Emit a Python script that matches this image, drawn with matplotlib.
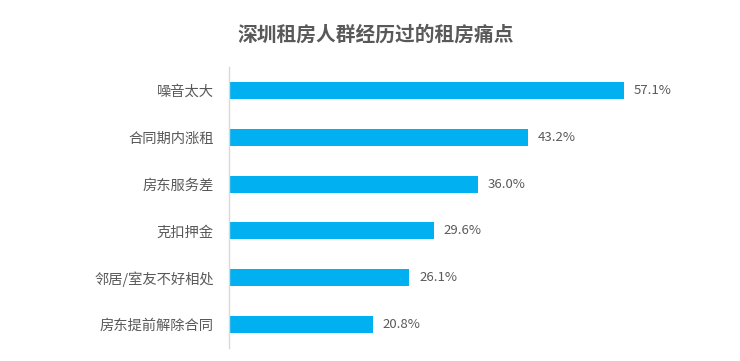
import numpy as np
import matplotlib.pyplot as plt

plt.rcParams['font.family'] = ['Noto Sans CJK SC', 'DejaVu Sans']

categories = ['噪音太大', '合同期内涨租', '房东服务差', '克扣押金', '邻居/室友不好相处', '房东提前解除合同']
values = [57.1, 43.2, 36.0, 29.6, 26.1, 20.8]
labels = ['57.1%', '43.2%', '36.0%', '29.6%', '26.1%', '20.8%']

fig = plt.figure(figsize=(7.4, 3.61), dpi=100)
ax = fig.add_axes([229 / 740, 13 / 361, 470 / 740, 281 / 361])

y = np.arange(len(categories))
ax.barh(y, values, height=0.36, color='#00B0F0')
for yi, v, lab in zip(y, values, labels):
    ax.text(v + 1.45, yi, lab, va='center', ha='left', fontsize=9.5, color='#595959')

ax.set_ylim(len(categories) - 0.5, -0.5)
ax.set_xlim(0, 68)
ax.set_yticks(y)
ax.set_yticklabels(categories, fontsize=10.3, color='#595959')
ax.tick_params(axis='y', length=0, pad=11)
ax.set_xticks([])
for s in ['top', 'right', 'bottom']:
    ax.spines[s].set_visible(False)
ax.spines['left'].set_color('#D9D9D9')
ax.spines['left'].set_linewidth(1)

fig.text(376 / 740, 1 - 35 / 361, '深圳租房人群经历过的租房痛点', ha='center', va='center',
         fontsize=14.2, fontweight='bold', color='#595959')

fig.savefig('out.png', dpi=100)
